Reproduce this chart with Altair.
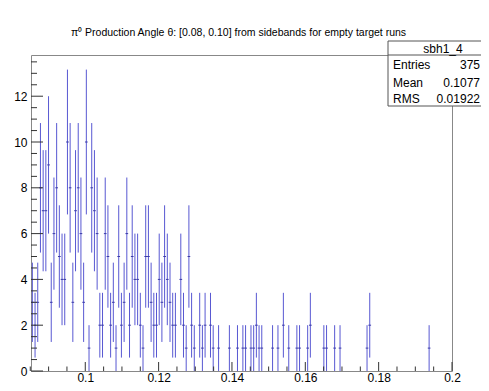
import altair as alt
import pandas as pd
import numpy as np

# ---- data ----
bin_low = 0.0852          # lower edge of first bin
bin_width = 0.000736      # width of one bin
counts = [
    3, 2, 3, 8, 7, 7, 9, 3, 6, 8,
    5, 4, 4, 10, 8, 3, 7, 8, 6, 3,
    10, 1, 8, 7, 6, 2, 2, 6, 5, 2,
    3, 1, 5, 2, 3, 6, 2, 5, 4, 4,
    2, 1, 5, 5, 3, 2, 2, 4, 3, 5,
    4, 3, 2, 2, 0, 4, 2, 1, 5, 2,
    1, 0, 2, 1, 2, 0, 2, 1, 0, 1,
    0, 0, 0, 1, 0, 0, 1, 0, 1, 1,
    0, 1, 1, 2, 1, 1, 0, 0, 0, 1,
    0, 1, 0, 2, 0, 1, 0, 0, 1, 1,
    0, 0, 1, 2, 0, 0, 0, 0, 1, 1,
    0, 0, 1, 0, 1, 0, 0, 0, 0, 0,
    0, 0, 0, 0, 1, 2, 0, 0, 0, 0,
    0, 0, 0, 0, 0, 0, 0, 0, 0, 0,
    0, 0, 0, 0, 0, 0, 0, 1,
]
x_major = [0.1, 0.12, 0.14, 0.16, 0.18, 0.2]
x_minor = [0.085, 0.09, 0.095, 0.105, 0.11, 0.115, 0.125, 0.13, 0.135,
           0.145, 0.15, 0.155, 0.165, 0.17, 0.175, 0.185, 0.19, 0.195]
y_major = [0, 2, 4, 6, 8, 10, 12]
y_minor = [0.5, 1, 1.5, 2.5, 3, 3.5, 4.5, 5, 5.5, 6.5, 7, 7.5, 8.5, 9, 9.5,
           10.5, 11, 11.5, 12.5, 13, 13.5]
title_text = "\u03c0\u2070 Production Angle \u03b8: [0.08, 0.10] from sidebands for empty target runs"
stats_name = "sbh1_4"
stats_labels = ["Entries", "Mean", "RMS"]
stats_values = ["375", "0.1077", "0.01922"]

# ---- layout ----
W, H = 421, 316
XMIN, XMAX = 0.0852, 0.2
YMIN, YMAX = 0.0, 13.8
BLUE = "#5858d2"
FONT = "Liberation Sans"

rows = []
for i, c in enumerate(counts):
    if c <= 0:
        continue
    lo = bin_low + i * bin_width
    rows.append(dict(lo=lo, hi=lo + bin_width, mid=lo + bin_width / 2, v=c,
                     e1=c - np.sqrt(c), e2=c + np.sqrt(c)))
df = pd.DataFrame(rows)

xs = alt.Scale(domain=[XMIN, XMAX], nice=False, zero=False)
ys = alt.Scale(domain=[YMIN, YMAX], nice=False, zero=False)

x_axis = alt.Axis(values=x_major, format=".2~f", domain=False, ticks=False, tickSize=0,
                  grid=False, labelFont=FONT, labelFontSize=12, labelColor="#000",
                  labelPadding=1, labelFlush=False, title=None)
y_axis = alt.Axis(values=y_major, format="d", domain=False, ticks=False, tickSize=0,
                  grid=False, labelFont=FONT, labelFontSize=12, labelColor="#000",
                  labelPadding=4, title=None)

err = alt.Chart(df).mark_rule(color=BLUE, strokeWidth=1).encode(
    x=alt.X("mid:Q", scale=xs, axis=x_axis),
    y=alt.Y("e1:Q", scale=ys, axis=y_axis),
    y2="e2:Q",
)
hbar = alt.Chart(df).mark_rule(color="#3a3aa8", strokeWidth=1).encode(
    x=alt.X("lo:Q", scale=xs), x2="hi:Q", y=alt.Y("v:Q", scale=ys)
)

xmaj = alt.Chart(pd.DataFrame({"t": x_major})).mark_rule(color="#333", strokeWidth=1).encode(
    x=alt.X("t:Q", scale=xs), y=alt.value(H), y2=alt.value(H - 9))
xmin_ = alt.Chart(pd.DataFrame({"t": x_minor})).mark_rule(color="#333", strokeWidth=1).encode(
    x=alt.X("t:Q", scale=xs), y=alt.value(H), y2=alt.value(H - 4.5))
ymaj = alt.Chart(pd.DataFrame({"t": y_major})).mark_rule(color="#333", strokeWidth=1).encode(
    y=alt.Y("t:Q", scale=ys), x=alt.value(0), x2=alt.value(12))
ymin_ = alt.Chart(pd.DataFrame({"t": y_minor})).mark_rule(color="#333", strokeWidth=1).encode(
    y=alt.Y("t:Q", scale=ys), x=alt.value(0), x2=alt.value(6))

one = pd.DataFrame({"a": [0]})
title = alt.Chart(one).mark_text(font=FONT, fontSize=10.5, color="#000", align="center",
                                 baseline="middle").encode(
    x=alt.value(W / 2 - 3), y=alt.value(-22), text=alt.value(title_text))

BX0, BX1, BY0, BY1 = 357, 480, -14, 51
box = alt.Chart(one).mark_rect(fill="white", strokeWidth=0).encode(
    x=alt.value(BX0), x2=alt.value(BX1), y=alt.value(BY0), y2=alt.value(BY1))
box_h = alt.Chart(pd.DataFrame({"py": [BY0, 0, BY1]})).mark_rule(color="#555", strokeWidth=1).encode(
    x=alt.value(BX0), x2=alt.value(BX1), y=alt.Y("py:Q", scale=None))
box_v = alt.Chart(one).mark_rule(color="#555", strokeWidth=1).encode(
    x=alt.value(BX0), y=alt.value(BY0), y2=alt.value(BY1))
hdr = alt.Chart(one).mark_text(font=FONT, fontSize=12, color="#000", align="center",
                               baseline="middle").encode(
    x=alt.value(412), y=alt.value(-6), text=alt.value(stats_name))

st = pd.DataFrame({"lab": stats_labels, "val": stats_values})
st["py"] = [10, 27.5, 44]
slab = alt.Chart(st).mark_text(font=FONT, fontSize=12, color="#000", align="left",
                               baseline="middle").encode(
    x=alt.value(362), y=alt.Y("py:Q", scale=None), text="lab:N")
sval = alt.Chart(st).mark_text(font=FONT, fontSize=12, color="#000", align="right",
                               baseline="middle").encode(
    x=alt.value(449), y=alt.Y("py:Q", scale=None), text="val:N")

chart = alt.layer(err, hbar, xmaj, xmin_, ymaj, ymin_, title, box, box_h, box_v, hdr, slab, sval).properties(
    width=W, height=H,
    padding={"left": 23, "top": 47, "right": 29, "bottom": 16},
    autosize=alt.AutoSizeParams(type="none"),
    background="white",
).configure_view(stroke="#888", strokeWidth=1)

chart.save("out.html", embed_options={"renderer": "svg", "actions": False})
